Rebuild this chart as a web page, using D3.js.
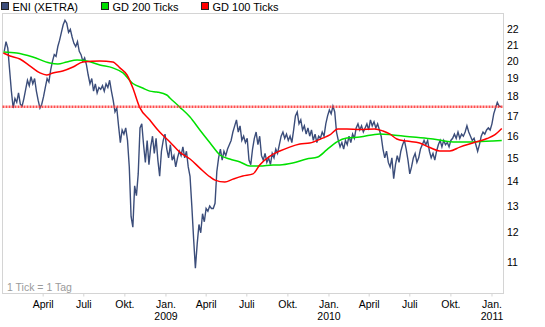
<!DOCTYPE html>
<html>
<head>
<meta charset="utf-8">
<script src="https://cdn.jsdelivr.net/npm/d3@7"></script>
<style>
  html, body { margin: 0; padding: 0; background: #fff; }
  svg { display: block; font-family: "Liberation Sans", Arial, sans-serif; }
</style>
</head>
<body>
<svg id="chart" width="545" height="327"></svg>
<script>
// ENI (XETRA) closing prices, one reading every 4 calendar days from 2008-01-06
const priceStart = "2008-01-06";
const priceStepDays = 4;
const priceValues = [
  20.6, 21.2, 20.8, 19.5, 18.3, 17.4, 17.9, 17.7, 18.2, 17.6,
  17.5, 17.9, 18.4, 18.9, 18.6, 19.1, 18.7, 19.0, 18.3, 17.8,
  17.4, 17.6, 18.0, 18.5, 19.0, 18.8, 19.5, 20.0, 20.4, 20.3,
  20.9, 21.3, 21.8, 22.3, 22.6, 22.4, 21.8, 22.0, 21.5, 21.1,
  20.9, 21.2, 20.6, 20.4, 20.0, 20.2, 19.8, 19.2, 18.7, 19.0,
  18.3, 18.7, 18.2, 18.5, 18.4, 18.6, 18.3, 18.7, 18.5, 18.9,
  18.3, 17.8, 17.2, 17.4, 16.5, 15.7, 16.3, 16.1, 16.4, 15.8,
  14.6, 12.6, 12.2, 13.8, 13.4, 14.3, 16.4, 16.6, 15.6, 14.8,
  15.8, 14.7, 15.5, 16.0, 15.2, 15.9, 14.9, 14.2, 15.3, 15.8,
  16.1, 15.4, 15.0, 15.6, 14.9, 15.1, 14.6, 15.0, 15.3, 15.1,
  15.5, 15.0, 15.3, 14.6, 14.2, 13.0, 11.8, 10.8, 11.6, 12.3,
  12.0, 12.7, 12.4, 12.9, 12.8, 13.0, 12.9, 12.9, 13.1, 14.4,
  15.0, 15.4, 14.9, 15.3, 15.1, 15.4, 15.6, 15.8, 16.2, 16.5,
  16.8, 16.2, 16.5, 15.8, 16.0, 15.7, 15.9, 14.9, 14.7, 15.4,
  15.9, 16.2, 15.6, 16.0, 15.1, 14.9, 15.2, 14.8, 15.0, 14.7,
  15.2, 15.0, 15.4, 15.2, 15.6, 16.0, 16.2, 15.9, 16.1, 15.8,
  16.0, 15.7, 16.3, 17.0, 17.2, 16.6, 16.8, 16.3, 16.5, 16.1,
  16.4, 16.0, 16.3, 15.8, 16.1, 15.7, 16.0, 15.9, 16.2, 16.0,
  16.6, 17.0, 17.3, 17.1, 17.5, 17.2, 16.2, 15.8, 15.5, 15.7,
  15.4, 15.8, 15.6, 16.0, 15.7, 16.1, 15.9, 16.4, 16.6, 16.3,
  16.5, 16.2, 16.4, 16.6, 16.3, 16.8, 16.5, 16.7, 16.4, 16.6,
  16.3, 16.0, 15.4, 15.0, 15.3, 14.8, 14.6, 15.0, 14.1, 14.7,
  15.1, 14.8, 15.3, 15.6, 15.8, 15.4, 14.9, 14.3, 14.6, 15.0,
  15.2, 14.8, 15.0, 15.4, 15.6, 15.8, 15.6, 15.8, 15.3, 15.0,
  15.2, 14.9, 15.3, 15.6, 15.8, 15.5, 15.8, 15.6, 15.7, 15.5,
  15.8, 15.9, 16.1, 15.9, 16.2, 15.9, 16.1, 16.0, 16.2, 16.5,
  16.2, 16.0, 15.8, 15.9, 15.6, 15.3, 15.6, 16.0, 16.2, 16.1,
  16.3, 16.4, 16.3, 16.6, 17.1, 17.4, 17.7, 17.5, 17.47
];

// 200-day moving average (GD 200 Ticks)
const gd200Dates = [
  "2008-01-04", "2008-02-03", "2008-03-10", "2008-04-17", "2008-05-05", "2008-05-25",
  "2008-06-17", "2008-07-09", "2008-08-07", "2008-09-05", "2008-09-28", "2008-10-20",
  "2008-11-11", "2008-11-27", "2008-12-13", "2009-01-04", "2009-01-11", "2009-02-02",
  "2009-02-25", "2009-03-19", "2009-04-11", "2009-05-03", "2009-05-25", "2009-06-17",
  "2009-07-09", "2009-07-31", "2009-08-30", "2009-09-14", "2009-10-13", "2009-11-13",
  "2009-12-08", "2009-12-28", "2010-01-20", "2010-02-11", "2010-03-12", "2010-04-26",
  "2010-05-25", "2010-07-09", "2010-08-23", "2010-10-07", "2010-11-20", "2011-01-04",
  "2011-01-24"
];
const gd200Values = [
  20.56, 20.50, 20.26, 19.90, 19.84, 19.96,
  20.07, 20.02, 19.78, 19.61, 19.32, 18.72,
  18.47, 18.30, 18.25, 18.09, 17.93, 17.45,
  16.94, 16.30, 15.68, 15.13, 14.95, 14.82,
  14.64, 14.64, 14.69, 14.69, 14.77, 14.95,
  15.04, 15.36, 15.73, 15.91, 15.96, 16.11,
  16.06, 15.96, 15.87, 15.73, 15.73, 15.77,
  15.80
];

// 100-day moving average (GD 100 Ticks)
const gd100Dates = [
  "2008-01-04", "2008-01-19", "2008-02-10", "2008-03-04", "2008-03-26", "2008-04-10",
  "2008-04-24", "2008-05-16", "2008-06-08", "2008-06-30", "2008-08-07", "2008-09-05",
  "2008-09-21", "2008-10-07", "2008-10-20", "2008-11-04", "2008-11-27", "2008-12-19",
  "2009-01-11", "2009-02-02", "2009-02-25", "2009-03-19", "2009-04-11", "2009-04-22",
  "2009-05-14", "2009-06-01", "2009-06-23", "2009-07-16", "2009-07-31", "2009-08-23",
  "2009-09-14", "2009-10-06", "2009-10-29", "2009-11-20", "2009-12-19", "2010-01-04",
  "2010-01-22", "2010-02-11", "2010-03-12", "2010-04-15", "2010-05-03", "2010-05-18",
  "2010-06-03", "2010-06-25", "2010-07-24", "2010-08-16", "2010-09-07", "2010-09-30",
  "2010-10-22", "2010-11-20", "2010-12-22", "2011-01-08", "2011-01-24"
];
const gd100Values = [
  20.50, 20.32, 20.14, 19.72, 19.32, 19.20,
  19.32, 19.43, 19.66, 19.96, 20.02, 19.96,
  19.61, 19.20, 18.47, 17.45, 16.79, 16.20,
  15.73, 15.26, 14.95, 14.55, 14.17, 14.04,
  13.96, 14.08, 14.21, 14.30, 14.69, 15.08,
  15.31, 15.49, 15.63, 15.68, 15.91, 16.06,
  16.35, 16.35, 16.32, 16.35, 16.25, 16.11,
  15.87, 15.77, 15.68, 15.47, 15.31, 15.31,
  15.49, 15.68, 15.89, 16.06, 16.37
];

// Axis ticks
const yTicks = [11, 12, 13, 14, 15, 16, 17, 18, 19, 20, 21, 22];
const xTickDates = [
  "2008-04-01", "2008-07-01", "2008-10-01", "2009-01-01", "2009-04-01", "2009-07-01",
  "2009-10-01", "2010-01-01", "2010-04-01", "2010-07-01", "2010-10-01", "2011-01-01"
];
const monthNames = { 0: "Jan.", 3: "April", 6: "Juli", 9: "Okt." };

const legendItems = [
  { label: "ENI (XETRA)", color: "#3b4d7a" },
  { label: "GD 200 Ticks", color: "#00e000" },
  { label: "GD 100 Ticks", color: "#ff0000" }
];

const parse = d3.utcParse("%Y-%m-%d");
const start = parse(priceStart);
const price = priceValues.map((v, i) => ({ date: d3.utcDay.offset(start, i * priceStepDays), value: v }));
const gd200 = gd200Dates.map((d, i) => ({ date: parse(d), value: gd200Values[i] }));
const gd100 = gd100Dates.map((d, i) => ({ date: parse(d), value: gd100Values[i] }));
const lastPrice = priceValues[priceValues.length - 1];

const frame = { left: 2.5, right: 503.5, top: 13.5, bottom: 293.5 };
const font = "'Liberation Sans', Arial, sans-serif";

const x = d3.scaleUtc()
  .domain([parse("2008-01-01"), parse("2011-01-29")])
  .range([2, 504]);
const y = d3.scaleLog()
  .domain([11, 22])
  .range([262, 29.3]);

const svg = d3.select("#chart");

// Legend
const legend = svg.append("g");
legendItems.forEach((item, i) => {
  const g = legend.append("g").attr("transform", `translate(${1.5 + i * 100},2.5)`);
  g.append("rect").attr("width", 7).attr("height", 7)
    .attr("fill", item.color).attr("stroke", "#222").attr("stroke-width", 1);
  g.append("text").attr("x", 11).attr("y", 8.5)
    .attr("font-size", 11).attr("fill", "#000").text(item.label);
});

// Plot frame
svg.append("rect")
  .attr("x", frame.left).attr("y", frame.top)
  .attr("width", frame.right - frame.left).attr("height", frame.bottom - frame.top)
  .attr("fill", "none").attr("stroke", "#d4d4d4");

svg.append("text")
  .attr("x", 7).attr("y", 290.5)
  .attr("font-size", 10.5).attr("fill", "#9a9a9a")
  .text("1 Tick = 1 Tag");

// Right-hand price labels
svg.append("g").selectAll("text").data(yTicks).join("text")
  .attr("x", 507).attr("y", d => y(d))
  .attr("dy", "0.35em")
  .attr("font-size", 10.5).attr("fill", "#000")
  .text(d => d);

// Time axis
const xAxis = d3.axisBottom(x)
  .tickValues(xTickDates.map(parse))
  .tickSize(3)
  .tickPadding(4)
  .tickFormat(d => monthNames[d.getUTCMonth()]);
const ax = svg.append("g")
  .attr("transform", `translate(0,${frame.bottom})`)
  .call(xAxis);
ax.select(".domain").remove();
ax.selectAll(".tick line").attr("stroke", "#d4d4d4");
ax.selectAll(".tick text")
  .attr("font-size", 10.5).attr("fill", "#000")
  .attr("font-family", font);
ax.selectAll(".tick").filter(d => d.getUTCMonth() === 0)
  .append("text")
  .attr("y", 19).attr("dy", "0.71em")
  .attr("fill", "#000").attr("font-size", 10.5)
  .attr("font-family", font)
  .text(d => d.getUTCFullYear());

// Series
const line = d3.line().x(d => x(d.date)).y(d => y(d.value));

svg.append("path").datum(price)
  .attr("d", line).attr("fill", "none")
  .attr("stroke", "#3b4d7a").attr("stroke-width", 1.4)
  .attr("stroke-linejoin", "miter");

svg.append("path").datum(gd200)
  .attr("d", line.curve(d3.curveMonotoneX)).attr("fill", "none")
  .attr("stroke", "#00e000").attr("stroke-width", 1.5);

svg.append("path").datum(gd100)
  .attr("d", line.curve(d3.curveMonotoneX)).attr("fill", "none")
  .attr("stroke", "#ff0000").attr("stroke-width", 1.5);

// Last price marker line
svg.append("line")
  .attr("x1", frame.left).attr("x2", frame.right)
  .attr("y1", y(lastPrice)).attr("y2", y(lastPrice))
  .attr("stroke", "#ff3030").attr("stroke-width", 2.4)
  .attr("stroke-dasharray", "2,1")
  .attr("stroke-opacity", 0.85);
</script>
</body>
</html>
